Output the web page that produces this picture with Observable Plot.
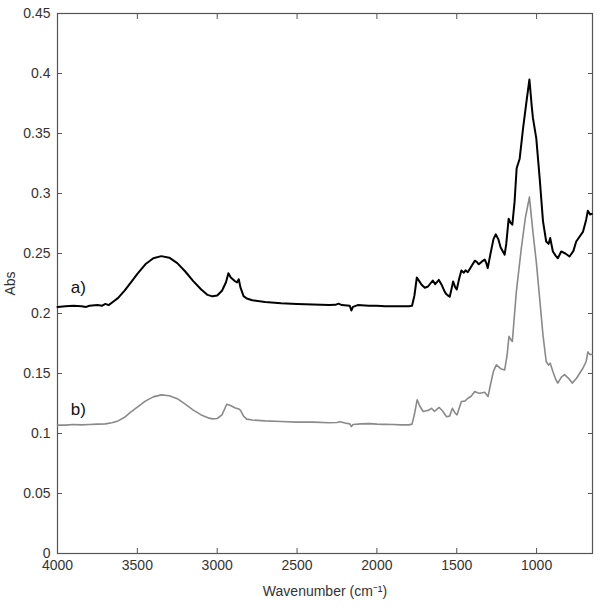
<!DOCTYPE html>
<html>
<head>
<meta charset="utf-8">
<script src="https://cdn.jsdelivr.net/npm/d3@7"></script>
<script src="https://cdn.jsdelivr.net/npm/@observablehq/plot@0.6"></script>
<style>
  html, body { margin: 0; padding: 0; background: #fff; }
  #chart { width: 600px; height: 616px; }
</style>
</head>
<body>
<div id="chart"></div>
<script>
// Wavenumber (cm^-1) and absorbance readings, spectrum a)
const waveA = [4000,3950,3900,3850,3820,3800,3750,3720,3700,3680,3660,3620,3580,3540,3500,3450,3400,3350,3300,3250,3200,3150,3100,3060,3030,3000,2970,2945,2930,2915,2890,2875,2865,2855,2835,2815,2780,2700,2600,2500,2400,2300,2260,2240,2220,2170,2160,2150,2120,2050,2000,1950,1900,1850,1800,1780,1765,1750,1735,1720,1700,1680,1665,1650,1635,1612,1595,1575,1564,1550,1544,1530,1523,1510,1500,1485,1471,1455,1445,1431,1410,1387,1375,1362,1345,1325,1315,1306,1290,1270,1256,1240,1225,1200,1190,1175,1165,1152,1138,1125,1106,1085,1065,1045,1030,1023,1002,981,960,940,925,915,898,880,867,846,820,794,770,752,710,690,679,665,655];
const absA  = [0.2055,0.206,0.2065,0.206,0.2055,0.2065,0.207,0.2065,0.208,0.207,0.209,0.213,0.219,0.226,0.233,0.241,0.246,0.2478,0.2465,0.242,0.235,0.227,0.220,0.2155,0.2143,0.215,0.219,0.226,0.2336,0.230,0.227,0.226,0.2285,0.222,0.2145,0.2125,0.211,0.2095,0.2085,0.208,0.2075,0.207,0.2072,0.2082,0.207,0.2065,0.2025,0.2055,0.207,0.2065,0.2065,0.206,0.206,0.206,0.206,0.2065,0.215,0.230,0.227,0.224,0.2215,0.2225,0.225,0.2275,0.2245,0.228,0.224,0.218,0.216,0.2145,0.214,0.222,0.2267,0.222,0.220,0.229,0.2358,0.234,0.236,0.2344,0.239,0.244,0.243,0.241,0.243,0.245,0.242,0.2378,0.249,0.262,0.266,0.262,0.255,0.249,0.258,0.279,0.276,0.274,0.293,0.321,0.329,0.354,0.375,0.395,0.372,0.363,0.346,0.313,0.277,0.26,0.258,0.263,0.2517,0.248,0.246,0.2517,0.25,0.2475,0.252,0.26,0.268,0.278,0.2856,0.2825,0.283];
// spectrum b)
const waveB = [4000,3950,3900,3850,3800,3750,3700,3660,3620,3580,3540,3500,3450,3400,3350,3300,3250,3200,3150,3100,3050,3030,3000,2970,2950,2940,2920,2890,2865,2855,2835,2815,2780,2700,2600,2500,2400,2300,2250,2230,2200,2170,2160,2150,2100,2050,2000,1950,1900,1850,1800,1780,1765,1748,1730,1710,1690,1675,1658,1640,1610,1590,1564,1545,1527,1510,1498,1485,1471,1450,1430,1410,1387,1370,1356,1340,1325,1304,1290,1270,1252,1225,1200,1185,1173,1160,1152,1127,1096,1070,1045,1023,1002,981,960,940,925,915,898,880,867,845,825,800,777,750,710,690,679,665,655];
const absB  = [0.107,0.107,0.1075,0.1072,0.1075,0.1078,0.108,0.109,0.1105,0.1135,0.118,0.122,0.127,0.1305,0.1322,0.1315,0.129,0.1245,0.1195,0.1155,0.1128,0.1122,0.1125,0.1155,0.1215,0.1244,0.1235,0.1215,0.1205,0.1195,0.1145,0.112,0.1112,0.1105,0.110,0.1095,0.1095,0.109,0.1092,0.1098,0.1088,0.108,0.1058,0.1075,0.108,0.1082,0.1078,0.1076,0.1075,0.1072,0.1072,0.1078,0.116,0.128,0.1225,0.1183,0.119,0.1195,0.121,0.1185,0.1217,0.119,0.114,0.1145,0.121,0.117,0.1156,0.121,0.1267,0.127,0.1294,0.131,0.135,0.134,0.1336,0.134,0.1344,0.1308,0.14,0.152,0.1572,0.154,0.153,0.165,0.181,0.178,0.1767,0.218,0.254,0.28,0.297,0.268,0.243,0.2128,0.182,0.16,0.157,0.1586,0.1517,0.145,0.142,0.147,0.149,0.146,0.142,0.146,0.1544,0.16,0.168,0.1656,0.166];

const xTicks = [4000,3500,3000,2500,2000,1500,1000];
const yTicks = [0,0.05,0.1,0.15,0.2,0.25,0.3,0.35,0.4,0.45];
const labelNames = ["a)","b)"];
const labelWave = [3870,3870];
const labelAbs = [0.222,0.120];

const dataA = waveA.map((w,i)=>({w, a: absA[i]}));
const dataB = waveB.map((w,i)=>({w, a: absB[i]}));
const labels = labelNames.map((t,i)=>({t, w: labelWave[i], a: labelAbs[i]}));

const fmt = d => String(+d.toFixed(2));
const blank = () => "";
const font = "Liberation Sans, Arial, Helvetica, sans-serif";

const plot = Plot.plot({
  width: 600,
  height: 616,
  marginLeft: 57,
  marginRight: 8,
  marginTop: 13,
  marginBottom: 63,
  style: {fontFamily: font, fontSize: "14px", color: "#333", background: "#fff"},
  x: {domain: [4000, 650]},
  y: {domain: [0, 0.45]},
  marks: [
    Plot.axisX({ticks: xTicks, tickFormat: d => String(d), tickSize: -5, tickPadding: 12, stroke: "#555",
      label: "Wavenumber (cm⁻¹)", labelAnchor: "center", labelArrow: "none", labelOffset: 42, fontSize: 14}),
    Plot.axisX({anchor: "top", ticks: xTicks, tickFormat: blank, tickSize: -5, stroke: "#555", label: null}),
    Plot.axisY({ticks: yTicks, tickFormat: fmt, tickSize: -5, tickPadding: 12, stroke: "#555",
      label: "Abs", labelAnchor: "center", labelArrow: "none", labelOffset: 52, fontSize: 14}),
    Plot.axisY({anchor: "right", ticks: yTicks, tickFormat: blank, tickSize: -5, stroke: "#555", label: null}),
    Plot.frame({stroke: "#555", strokeWidth: 1.2}),
    Plot.line(dataB, {x: "w", y: "a", stroke: "#8a8a8a", strokeWidth: 1.6}),
    Plot.line(dataA, {x: "w", y: "a", stroke: "#000", strokeWidth: 2}),
    Plot.text(labels, {x: "w", y: "a", text: "t", fontSize: 17, fill: "#111", textAnchor: "middle"})
  ]
});
document.getElementById("chart").appendChild(plot);
</script>
</body>
</html>
